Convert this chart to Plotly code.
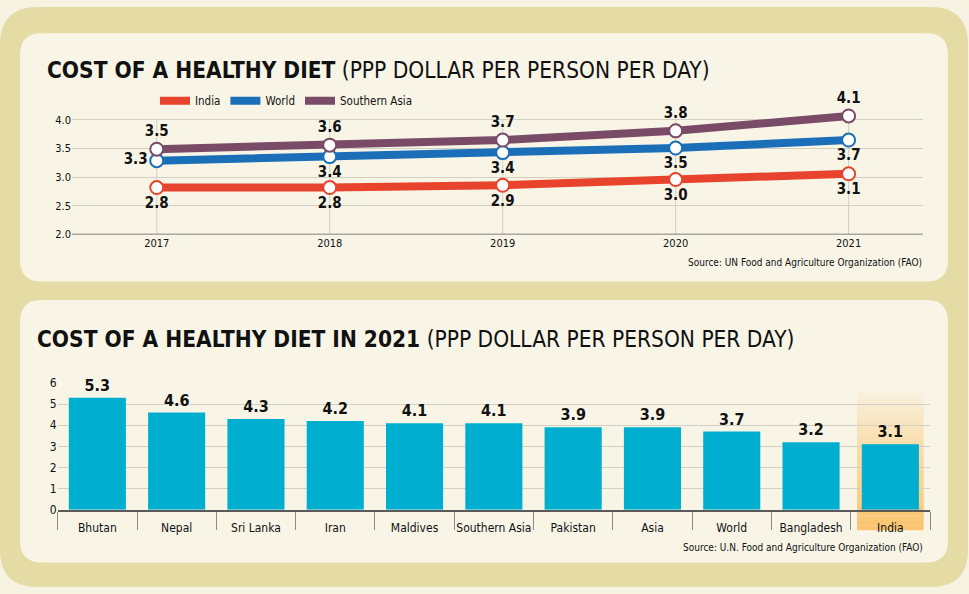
import plotly.graph_objects as go

W, H = 969, 594

# ---------------- data ----------------
years = [2017, 2018, 2019, 2020, 2021]
india = [2.82, 2.82, 2.86, 2.96, 3.06]
world = [3.29, 3.36, 3.43, 3.51, 3.65]
south_asia = [3.49, 3.56, 3.65, 3.81, 4.07]
india_lbl = ["2.8", "2.8", "2.9", "3.0", "3.1"]
world_lbl = ["3.3", "3.4", "3.4", "3.5", "3.7"]
sa_lbl = ["3.5", "3.6", "3.7", "3.8", "4.1"]

countries = ["Bhutan", "Nepal", "Sri Lanka", "Iran", "Maldives", "Southern Asia",
             "Pakistan", "Asia", "World", "Bangladesh", "India"]
cost_2021 = [5.3, 4.6, 4.3, 4.2, 4.1, 4.1, 3.9, 3.9, 3.7, 3.2, 3.1]
highlight = "India"

top_yticks = [2.0, 2.5, 3.0, 3.5, 4.0]
bottom_yticks = [0, 1, 2, 3, 4, 5, 6]

# ---------------- style ----------------
FONT = "Liberation Sans Narrow, DejaVu Sans Condensed, Arial Narrow, sans-serif"
C_PAGE = "#f6f3e3"
C_TAN = "#e5dba4"
C_PANEL = "#f8f5e7"
C_INDIA = "#e8432c"
C_WORLD = "#1a6fb8"
C_SA = "#7a4b67"
C_BAR = "#00aecf"
C_GRID = "#d3cfc2"
C_AXIS = "#5a5a5a"
C_TXT = "#111111"


def px(x):
    return x / W


def py(y):
    return (H - y) / H


def rrect(x0, y0, x1, y1, r, color):
    """Rounded rectangle in pixel coords -> paper path."""
    pts = (
        f"M {px(x0 + r)},{py(y0)} L {px(x1 - r)},{py(y0)} "
        f"Q {px(x1)},{py(y0)} {px(x1)},{py(y0 + r)} "
        f"L {px(x1)},{py(y1 - r)} Q {px(x1)},{py(y1)} {px(x1 - r)},{py(y1)} "
        f"L {px(x0 + r)},{py(y1)} Q {px(x0)},{py(y1)} {px(x0)},{py(y1 - r)} "
        f"L {px(x0)},{py(y0 + r)} Q {px(x0)},{py(y0)} {px(x0 + r)},{py(y0)} Z"
    )
    return dict(type="path", path=pts, xref="paper", yref="paper",
                fillcolor=color, line=dict(width=0), layer="below")


fig = go.Figure()

# ---------------- top line chart ----------------
series = [("India", india, india_lbl, C_INDIA),
          ("World", world, world_lbl, C_WORLD),
          ("Southern Asia", south_asia, sa_lbl, C_SA)]
for name, vals, lbls, col in series:
    fig.add_trace(go.Scatter(
        x=years, y=vals, mode="lines", name=name,
        line=dict(color=col, width=8), xaxis="x", yaxis="y",
        hoverinfo="skip", showlegend=True, cliponaxis=False))

for name, vals, lbls, col in series:
    if name == "India":
        tpos = ["bottom center"] * 5
    elif name == "World":
        tpos = ["middle left"] + ["bottom center"] * 4
    else:
        tpos = ["top center"] * 5
    fig.add_trace(go.Scatter(
        x=years, y=vals, mode="markers+text", text=lbls, textposition=tpos,
        marker=dict(size=13, color="white", line=dict(color=col, width=2)),
        textfont=dict(family=FONT, size=15, color=C_TXT, weight=700),
        cliponaxis=False, showlegend=False, hoverinfo="skip",
        xaxis="x", yaxis="y"))

# ---------------- bottom bar chart ----------------
fig.add_trace(go.Bar(
    x=countries, y=cost_2021, text=[f"{v:.1f}" for v in cost_2021],
    textposition="outside", marker=dict(color=C_BAR, line=dict(width=0)),
    textfont=dict(family=FONT, size=16, color=C_TXT, weight=700),
    cliponaxis=False, showlegend=False, hoverinfo="skip",
    xaxis="x2", yaxis="y2"))

shapes = [
    rrect(0, 0, 968, 594, 38, C_TAN),
    rrect(20, 27, 948, 281, 22, C_PANEL),
    rrect(20, 300, 948, 569, 22, C_PANEL),
]

# vertical gridlines of the top chart (2.0 -> 4.0)
for yr in years:
    shapes.append(dict(type="line", xref="x", yref="y", x0=yr, x1=yr,
                       y0=2.0, y1=4.0, line=dict(color=C_GRID, width=1),
                       layer="below"))

# India highlight gradient (stacked bands, paper y so it reaches the label)
hi = countries.index(highlight)
n_bands = 30
p_lo, p_hi = py(536), py(393)
for k in range(n_bands):
    a0 = p_lo + (p_hi - p_lo) * k / n_bands
    a1 = p_lo + (p_hi - p_lo) * (k + 1) / n_bands
    alpha = (1 - k / n_bands) ** 0.8
    shapes.append(dict(type="rect", xref="x2", yref="paper",
                       x0=hi - 0.42, x1=hi + 0.42, y0=a0, y1=a1,
                       fillcolor=f"rgba(250,196,112,{alpha:.3f})",
                       line=dict(width=0), layer="below"))

annotations = [
    dict(text="<b>COST OF A HEALTHY DIET</b> (PPP DOLLAR PER PERSON PER DAY)",
         x=px(45), y=py(65), xref="paper", yref="paper", xanchor="left",
         yanchor="middle", showarrow=False,
         font=dict(family=FONT, size=22.5, color=C_TXT)),
    dict(text="<b>COST OF A HEALTHY DIET IN 2021</b> (PPP DOLLAR PER PERSON PER DAY)",
         x=px(35), y=py(340), xref="paper", yref="paper", xanchor="left",
         yanchor="middle", showarrow=False,
         font=dict(family=FONT, size=22.5, color=C_TXT)),
    dict(text="Source: UN Food and Agriculture Organization (FAO)",
         x=px(924), y=py(262), xref="paper", yref="paper", xanchor="right",
         yanchor="middle", showarrow=False,
         font=dict(family=FONT, size=10, color=C_TXT)),
    dict(text="Source: U.N. Food and Agriculture Organization (FAO)",
         x=px(925), y=py(554), xref="paper", yref="paper", xanchor="right",
         yanchor="middle", showarrow=False,
         font=dict(family=FONT, size=10, color=C_TXT)),
]

fig.update_layout(
    width=W, height=H,
    margin=dict(l=0, r=0, t=0, b=0, pad=0),
    paper_bgcolor=C_PAGE, plot_bgcolor="rgba(0,0,0,0)",
    font=dict(family=FONT, color=C_TXT),
    shapes=shapes, annotations=annotations,
    bargap=0.28,
    showlegend=True,
    legend=dict(orientation="h", x=px(155), y=py(96), xanchor="left",
                yanchor="middle", bgcolor="rgba(0,0,0,0)",
                font=dict(family=FONT, size=11.5, color=C_TXT),
                itemwidth=30, tracegroupgap=0),
    xaxis=dict(domain=[px(72), px(923)], range=[2016.51, 2021.43],
               tickvals=years, ticktext=[str(y) for y in years],
               showgrid=False, zeroline=False, showline=False, ticks="",
               tickfont=dict(family=FONT, size=11, color=C_TXT),
               fixedrange=True, anchor="y"),
    yaxis=dict(domain=[py(233), py(233 - 2.2 * 58.65)], range=[2.0, 4.2],
               tickvals=top_yticks, ticktext=[f"{v:.1f}" for v in top_yticks],
               showgrid=True, gridcolor=C_GRID, gridwidth=1,
               zeroline=False, showline=False, ticks="",
               tickfont=dict(family=FONT, size=11, color=C_TXT),
               fixedrange=True, anchor="x"),
    xaxis2=dict(domain=[px(57.7), px(930)], range=[-0.5, 10.5],
                type="category", showgrid=False, zeroline=False,
                showline=True, linecolor=C_AXIS, linewidth=1.5,
                ticks="outside", tickson="boundaries", ticklen=18,
                tickcolor="#8a8a8a", tickwidth=1, ticklabelstandoff=6,
                tickangle=0,
                tickfont=dict(family=FONT, size=12, color=C_TXT),
                fixedrange=True, anchor="y2"),
    yaxis2=dict(domain=[py(515), py(385)], range=[0, 6],
                tickvals=bottom_yticks,
                showgrid=True, gridcolor=C_GRID, gridwidth=1,
                zeroline=False, showline=False, ticks="",
                tickfont=dict(family=FONT, size=12, color=C_TXT),
                fixedrange=True, anchor="x2"),
)

# axis base line for the top chart at 2.0
fig.add_shape(type="line", xref="x domain", yref="y", x0=0, x1=1, y0=2.0, y1=2.0,
              line=dict(color=C_AXIS, width=1.5), layer="above")

fig.write_html("out.html")
